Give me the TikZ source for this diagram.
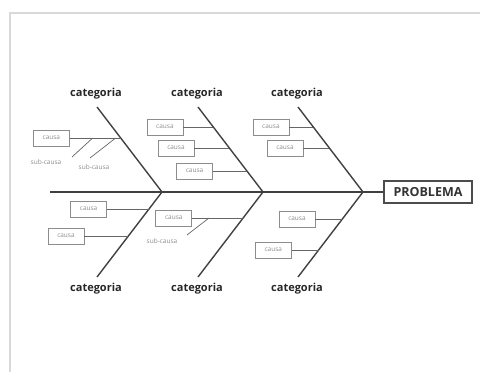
\documentclass[tikz,border=0pt]{standalone}
\usepackage{fontspec}
\setmainfont{Open Sans}
\usetikzlibrary{positioning,calc}

\begin{document}
\begin{tikzpicture}[x=1pt,y=-1pt,
  bone/.style={line width=1.4pt,black!75},
  twig/.style={line width=0.7pt,black!60},
  causa/.style={draw=black!45,line width=0.7pt,minimum width=36pt,minimum height=16pt,
    inner sep=0pt,font=\fontsize{6.5}{7}\selectfont,text=black!45},
  subcausa/.style={font=\fontsize{6.5}{7}\selectfont,text=black!45,inner sep=0pt},
  cat/.style={font=\fontsize{11}{12}\selectfont\bfseries,text=black!85}]
\useasboundingbox (0,0) rectangle (480,372);
% card frame
\draw[black!15,line width=1.5pt] (10,380) -- (10,13) -- (490,13);

% spine
\node[draw=black!70,line width=1.2pt,minimum width=88pt,minimum height=22pt,inner sep=0pt,
  font=\fontsize{12.5}{13}\selectfont\bfseries,text=black!80] (prob) at (428,192) {PROBLEMA};
\coordinate (tail) at (50,192);
\draw[bone] (tail) -- (prob.west);

% bones
\foreach \i/\x in {1/162,2/263,3/363}{
  \coordinate (j\i) at (\x,192);
  \coordinate (t\i) at (\x-65,107);
  \coordinate (b\i) at (\x-65,277);
  \node[cat] (ct\i) at (\x-66,94) {categoria};
  \node[cat] (cb\i) at (\x-66,289) {categoria};
  \draw[bone] (t\i) -- (j\i) -- (b\i);
}

% causes, upper side
\coordinate (k11) at ($(t1)!0.365!(j1)$);
\node[causa,left=51pt of k11] (c11) {causa};
\draw[twig] (c11) -- (k11);
\coordinate (k21) at ($(t2)!0.235!(j2)$);
\node[causa,left=30pt of k21] (c21) {causa};
\draw[twig] (c21) -- (k21);
\coordinate (k22) at ($(t2)!0.482!(j2)$);
\node[causa,left=35pt of k22] (c22) {causa};
\draw[twig] (c22) -- (k22);
\coordinate (k23) at ($(t2)!0.753!(j2)$);
\node[causa,left=34pt of k23] (c23) {causa};
\draw[twig] (c23) -- (k23);
\coordinate (k31) at ($(t3)!0.235!(j3)$);
\node[causa,left=24pt of k31] (c31) {causa};
\draw[twig] (c31) -- (k31);
\coordinate (k32) at ($(t3)!0.482!(j3)$);
\node[causa,left=26pt of k32] (c32) {causa};
\draw[twig] (c32) -- (k32);

% causes, lower side
\coordinate (q11) at ($(j1)!0.2!(b1)$);
\node[causa,left=42pt of q11] (d11) {causa};
\draw[twig] (d11) -- (q11);
\coordinate (q12) at ($(j1)!0.518!(b1)$);
\node[causa,left=44pt of q12] (d12) {causa};
\draw[twig] (d12) -- (q12);
\coordinate (q21) at ($(j2)!0.306!(b2)$);
\node[causa,left=51pt of q21] (d21) {causa};
\draw[twig] (d21) -- (q21);
\coordinate (q31) at ($(j3)!0.318!(b3)$);
\node[causa,left=27pt of q31] (d31) {causa};
\draw[twig] (d31) -- (q31);
\coordinate (q32) at ($(j3)!0.682!(b3)$);
\node[causa,left=27pt of q32] (d32) {causa};
\draw[twig] (d32) -- (q32);

% sub-causes
\node[subcausa] (s11) at (46,162) {sub-causa};
\node[subcausa] (s12) at (94,167) {sub-causa};
\node[subcausa] (s21) at (162,241) {sub-causa};
\coordinate (m11) at ($(c11.east)!0.45!(k11)$);
\coordinate (m12) at ($(c11.east)!0.9!(k11)$);
\coordinate (m21) at ($(d21.east)!0.33!(q21)$);
\draw[twig] (72,157) -- (m11);
\draw[twig] (90,158) -- (m12);
\draw[twig] (187,235) -- (m21);
\end{tikzpicture}
\end{document}
